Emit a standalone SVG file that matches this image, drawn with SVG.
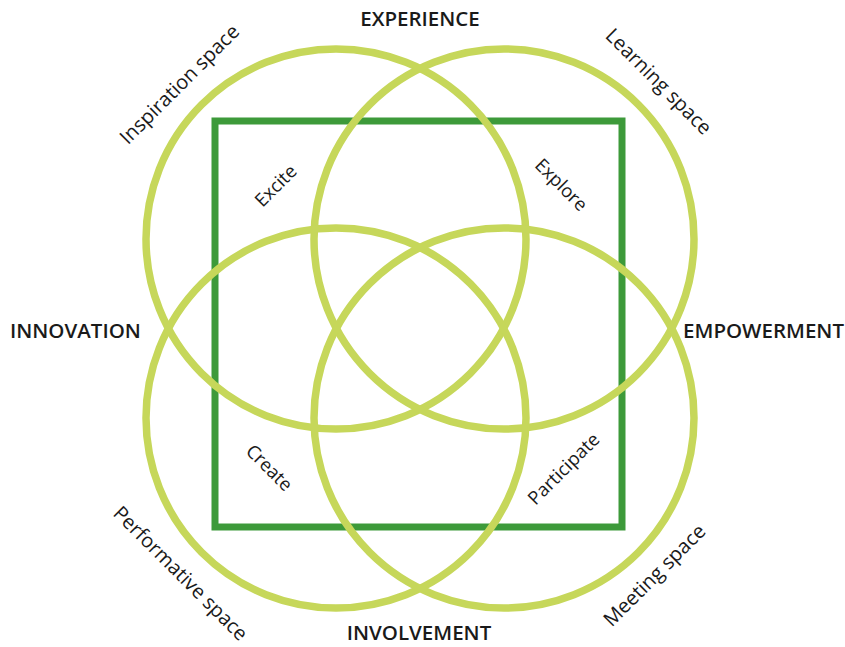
<svg xmlns="http://www.w3.org/2000/svg" width="845" height="647" viewBox="0 0 845 647">
<style>
.sq{fill:none;stroke:#3d9a3a;stroke-width:7}
.c{fill:none;stroke:#c6d75a;stroke-width:7.5}
.h{font-family:"Open Sans","Liberation Sans",sans-serif;font-weight:600;font-size:20.5px;fill:#1a1a1a}
.l{font-family:"Open Sans","Liberation Sans",sans-serif;font-size:18.5px;fill:#1a1a1a;text-anchor:middle}
.s{font-size:20px}
</style>
<rect width="845" height="647" fill="#ffffff"/>
<g id="square"><rect class="sq" x="215" y="121" width="407" height="406"/></g>
<g id="circles">
<circle id="c-tl" class="c" cx="336" cy="239" r="190"/>
<circle id="c-tr" class="c" cx="504" cy="239" r="190"/>
<circle id="c-bl" class="c" cx="336" cy="418" r="190"/>
<circle id="c-br" class="c" cx="504" cy="418" r="190"/>
</g>
<g id="headings">
<text class="h" x="420" y="26" text-anchor="middle">EXPERIENCE</text>
<text class="h" x="10" y="338">INNOVATION</text>
<text class="h" x="844" y="338" text-anchor="end">EMPOWERMENT</text>
<text class="h" x="419" y="640" text-anchor="middle">INVOLVEMENT</text>
</g>
<g id="spaces">
<text class="l s" transform="translate(180,85) rotate(-45)" y="6">Inspiration space</text>
<text class="l s" transform="translate(658,82) rotate(45)" y="6">Learning space</text>
<text class="l s" transform="translate(180,574) rotate(45)" y="6">Performative space</text>
<text class="l s" transform="translate(655,576) rotate(-45)" y="6">Meeting space</text>
</g>
<g id="inner">
<text class="l" transform="translate(276,186) rotate(-45)" y="6">Excite</text>
<text class="l" transform="translate(561,185) rotate(45)" y="6">Explore</text>
<text class="l" transform="translate(269,468) rotate(45)" y="6">Create</text>
<text class="l" transform="translate(564,469) rotate(-45)" y="6">Participate</text>
</g>
</svg>
